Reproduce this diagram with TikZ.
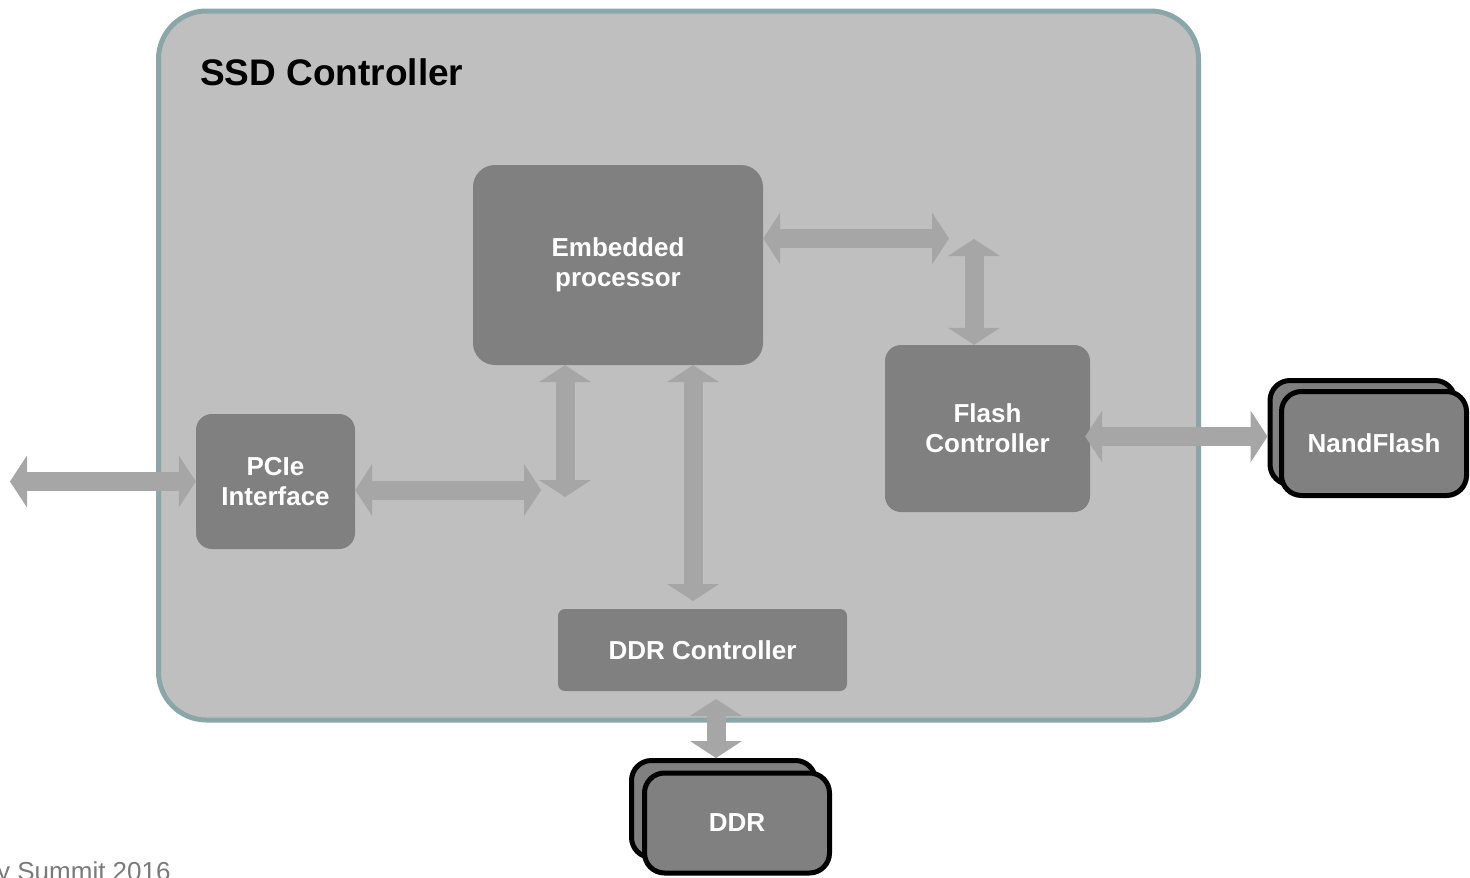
\documentclass[tikz,border=0pt]{standalone}
\usepackage{fontspec}
\setmainfont{Liberation Sans}
\usetikzlibrary{arrows.meta,calc}

\definecolor{chipfill}{HTML}{BFBFBF}
\definecolor{chipedge}{HTML}{8BA6A8}
\definecolor{blockfill}{HTML}{808080}
\definecolor{busgray}{HTML}{A6A6A6}
\definecolor{footgray}{HTML}{7A7A7A}

\tikzset{
  block/.style={fill=blockfill, draw=none, rounded corners=#1, text=white,
    font=\fontsize{26}{30}\selectfont\bfseries, align=center, inner sep=0pt},
  block/.default=16pt,
  card/.style={fill=blockfill, draw=black, line width=5pt, rounded corners=20pt,
    minimum width=185pt, inner sep=0pt},
  bus/.style={draw=busgray, line width=19pt,
    {Triangle[width=52pt,length=17pt,line width=0pt]}-{Triangle[width=52pt,length=17pt,line width=0pt]}},
}

\begin{document}
\begin{tikzpicture}[x=1pt, y=-1pt]
  \useasboundingbox (0,0) rectangle (1470,878);

  % controller die
  \node[draw=chipedge, line width=5pt, fill=chipfill, rounded corners=48pt,
        minimum width=1040pt, minimum height=709pt, inner sep=0pt]
        (chip) at (678.5,365.5) {};
  \node[anchor=base west, font=\fontsize{37}{40}\selectfont\bfseries, inner sep=0pt]
        (title) at (200,85) {SSD Controller};

  % functional blocks
  \node[block=22pt, minimum width=290pt, minimum height=200pt] (proc) at (618,265)
        {Embedded\\processor};
  \node[block, minimum width=159pt, minimum height=135pt] (pcie) at (275.5,481.5)
        {PCIe\\Interface};
  \node[block, minimum width=205pt, minimum height=167pt] (flash) at (987.5,428.5)
        {Flash\\Controller};
  \node[block=7pt, minimum width=289pt, minimum height=82pt] (ddrc) at (702.5,650)
        {DDR Controller};

  % external memories (stacked cards)
  \node[card, minimum height=104pt] (nandback) at (1362.5,432.5) {};
  \node[card, minimum height=104pt, text=white,
        font=\fontsize{26}{30}\selectfont\bfseries] (nand) at (1374,443.5) {NandFlash};
  \node[card, minimum width=184pt, minimum height=97pt] (ddrback) at (723.5,809) {};
  \node[card, minimum height=100pt, text=white,
        font=\fontsize{26}{30}\selectfont\bfseries] (ddr) at (737,823) {DDR};

  % free ends of the buses
  \coordinate (host)    at (10,481.5);
  \coordinate (pciebus) at (541,490);
  \coordinate (procbus) at (565,497);
  \coordinate (ddrtap)  at (693,601);
  \coordinate (procout) at (949,238.5);
  \coordinate (flashin) at (974,239);
  \coordinate (ddrcout) at (716,699);

  % buses
  \draw[bus] (host) -- (pcie.west);
  \draw[bus] (pcie.east |- pciebus) -- (pciebus);
  \draw[bus] (proc.south -| procbus) -- (procbus);
  \draw[bus] (proc.south -| ddrtap) -- (ddrtap);
  \draw[bus] (proc.east |- procout) -- (procout);
  \draw[bus] (flashin) -- (flash.north -| flashin);
  \draw[bus] ($(flash.east |- 0,436.5)+(-5,0)$) -- (nandback.west |- 0,436.5);
  \draw[bus] (ddrcout) -- (ddrback.north -| ddrcout);

  % footer
  \node[anchor=base west, inner sep=0pt, text=footgray,
        font=\fontsize{26}{30}\selectfont] (foot) at (-3,880) {y Summit 2016};
\end{tikzpicture}
\end{document}
